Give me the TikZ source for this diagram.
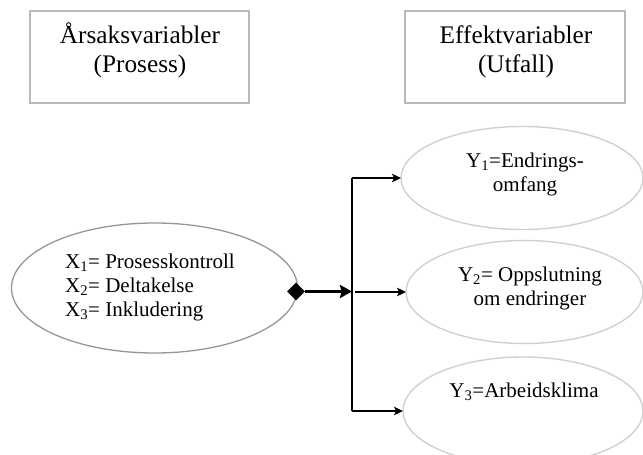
\documentclass[tikz,border=0pt]{standalone}
\usepackage{fontspec}
\setmainfont{Liberation Serif}
\usetikzlibrary{shapes.geometric,arrows.meta}

\definecolor{boxline}{RGB}{185,185,185}
\definecolor{causeline}{RGB}{150,150,150}
\definecolor{effectline}{RGB}{208,208,208}

\tikzset{
  headbox/.style={draw=boxline, line width=1.7pt, rectangle, inner sep=0pt, outer sep=0pt},
  headtext/.style={anchor=base, inner sep=0pt, font=\fontsize{25.3}{29}\selectfont},
  cause/.style={draw=causeline, line width=1.3pt, ellipse, inner sep=0pt, outer sep=0pt},
  effect/.style={draw=effectline, line width=1.4pt, ellipse, inner sep=0pt, outer sep=0pt},
  itemtext/.style={inner sep=0pt, font=\fontsize{21}{24}\selectfont},
  joint/.style={diamond, fill=black, inner sep=0pt, minimum width=18pt, minimum height=18pt},
  mainflow/.style={line width=2.8pt, -{Stealth[length=12pt,width=13pt,inset=1.5pt]}},
  trunk/.style={line width=1.5pt},
  branch/.style={line width=1.5pt, -{Stealth[length=9pt,width=8.5pt,inset=2pt]}}
}

\begin{document}
\begin{tikzpicture}[x=1pt, y=-1pt]
  \useasboundingbox (0,0) rectangle (643,455);

  % header boxes
  \node[headbox, minimum width=219pt, minimum height=92pt] (lbox) at (139.5,57) {};
  \node[headbox, minimum width=220pt, minimum height=92pt] (rbox) at (515,57) {};
  \node[headtext] (lhead) at (140,43) {\begin{tabular}[t]{@{}c@{}}Årsaksvariabler\\(Prosess)\end{tabular}};
  \node[headtext] (rhead) at (516,43) {\begin{tabular}[t]{@{}c@{}}Effektvariabler\\(Utfall)\end{tabular}};

  % cause ellipse
  \node[cause, minimum width=286pt, minimum height=130pt] (xs) at (154.5,288) {};
  \node[itemtext, anchor=base west] (xlist) at (65,268)
    {\begin{tabular}[t]{@{}l@{}}X\textsubscript{1}= Prosesskontroll\\X\textsubscript{2}= Deltakelse\\X\textsubscript{3}= Inkludering\end{tabular}};

  % effect ellipses
  \node[effect, minimum width=242pt, minimum height=103pt] (y1) at (522,178) {};
  \node[effect, minimum width=237pt, minimum height=103pt] (y2) at (524.5,292) {};
  \node[effect, minimum width=240pt, minimum height=108pt] (y3) at (523,411) {};
  \node[itemtext, anchor=base] (y1t) at (525,167.5)
    {\begin{tabular}[t]{@{}c@{}}Y\textsubscript{1}=Endrings-\\omfang\end{tabular}};
  \node[itemtext, anchor=base] (y2t) at (530,281)
    {\begin{tabular}[t]{@{}c@{}}Y\textsubscript{2}= Oppslutning\\om endringer\end{tabular}};
  \node[itemtext, anchor=base] (y3t) at (524,397) {Y\textsubscript{3}=Arbeidsklima};

  % connectors
  \node[joint] (dia) at (296,291.5) {};
  \coordinate (hub) at (352,291.5);
  \draw[mainflow] (dia.east) -- (hub);
  \draw[trunk] (hub |- y1.west) -- (hub |- y3.west);
  \draw[branch] (hub |- y1.west) -- (y1.west);
  \draw[branch] ([xshift=3pt]hub |- y2.west) -- (y2.west);
  \draw[branch] (hub |- y3.west) -- (y3.west);
\end{tikzpicture}
\end{document}
